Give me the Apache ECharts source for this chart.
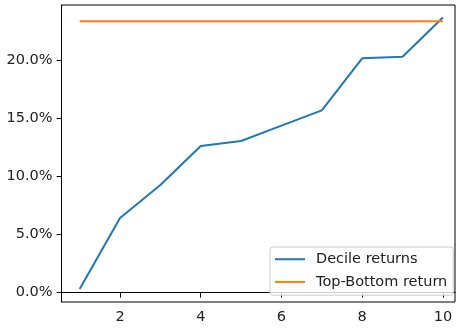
<!DOCTYPE html>
<html>
<head>
<meta charset="utf-8">
<script src="https://cdn.jsdelivr.net/npm/echarts@6/dist/echarts.min.js"></script>
<style>html,body{margin:0;padding:0;background:#fff}#c{width:456px;height:329px}</style>
</head>
<body>
<div id="c"></div>
<script>
const deciles = [1, 2, 3, 4, 5, 6, 7, 8, 9, 10];
const decileReturns = [0.32, 6.44, 9.28, 12.65, 13.08, 14.4, 15.72, 20.2, 20.34, 23.72];
const topBottomReturn = 23.4;
const xTicks = [2, 4, 6, 8, 10];
const yTicks = [0, 5, 10, 15, 20];
const seriesNames = ['Decile returns', 'Top-Bottom return'];

const chart = echarts.init(document.getElementById('c'), null, {renderer: 'canvas'});
const font = 'DejaVu Sans';
const fs = 14.5;
chart.setOption({
  animation: false,
  backgroundColor: '#fff',
  grid: {left: 61.5, right: 1, top: 5, bottom: 27, show: true, borderColor: '#000', borderWidth: 1, backgroundColor: 'transparent'},
  xAxis: {
    type: 'value', min: 0.55, max: 10.3,
    axisLine: {show: true, lineStyle: {color: '#000', width: 1}},
    axisTick: {show: true, inside: false, length: 4.9, customValues: xTicks, lineStyle: {color: '#000'}},
    axisLabel: {customValues: xTicks, margin: 8, color: '#222', fontFamily: font, fontSize: fs},
    splitLine: {show: false}
  },
  yAxis: {
    type: 'value', min: -0.8, max: 24.8,
    axisLine: {show: true, lineStyle: {color: '#000', width: 1}},
    axisTick: {show: true, inside: false, length: 4.9, customValues: yTicks, lineStyle: {color: '#000'}},
    axisLabel: {customValues: yTicks, margin: 9, color: '#222', fontFamily: font, fontSize: fs,
      formatter: v => v.toFixed(1) + '%'},
    splitLine: {show: false}
  },
  legend: {
    orient: 'vertical', left: 270, top: 247,
    padding: [4, 6, 5, 5],
    itemGap: 6.2, itemWidth: 30, itemHeight: 2, icon: 'rect',
    borderColor: '#ccc', borderWidth: 1, borderRadius: 3, backgroundColor: 'rgba(255,255,255,0.8)',
    textStyle: {fontFamily: font, fontSize: fs, color: '#222', lineHeight: 16.5, padding: [0, 0, 0, 6]},
    data: seriesNames
  },
  series: [
    {name: seriesNames[0], type: 'line', symbol: 'none', color: '#1f77b4', lineStyle: {width: 2},
     data: deciles.map((d, i) => [d, decileReturns[i]])},
    {name: seriesNames[1], type: 'line', symbol: 'none', color: '#ff7f0e', lineStyle: {width: 2},
     data: [[deciles[0], topBottomReturn], [deciles[deciles.length - 1], topBottomReturn]]}
  ]
});
</script>
</body>
</html>
